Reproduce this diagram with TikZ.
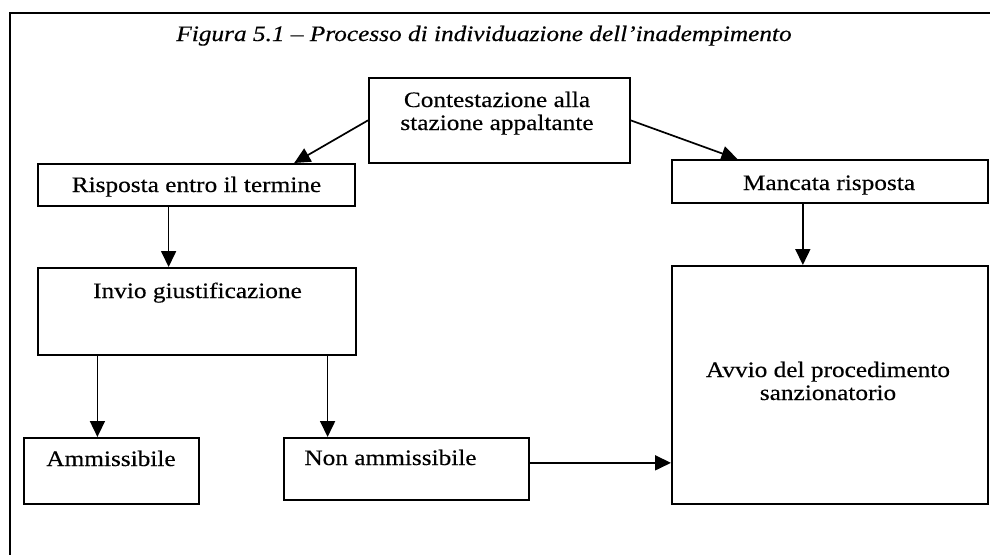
\documentclass[tikz,border=0pt]{standalone}
\usepackage{fontspec}
\setmainfont{Liberation Serif}[UprightFeatures={FakeBold=0.35},ItalicFeatures={FakeBold=0.35}]
\usepackage{graphicx}
\usetikzlibrary{arrows.meta,calc}
\newcommand{\wdstretch}[1]{\scalebox{1.15}[1]{#1}}
\begin{document}
\begin{tikzpicture}[x=1pt,y=-1pt,
  box/.style={draw, line width=1.7pt, inner sep=0pt, anchor=north west},
  txt/.style={font=\fontsize{22}{24}\selectfont, inner sep=0pt, anchor=base},
  arr/.style={line width=1.7pt, -{Triangle[length=16pt,width=15pt]}}]
\useasboundingbox (0,0) rectangle (990,555);
% outer frame (open at right and bottom, as cropped)
\coordinate (fr1) at (990,13);
\coordinate (fr2) at (10,13);
\coordinate (fr3) at (10,555);
\draw[line width=1.7pt] (fr1) -- (fr2) -- (fr3);
% title
\node[txt] (title) at (484,41) {\wdstretch{\itshape Figura 5.1 – Processo di individuazione dell’inadempimento}};
% boxes
\node[box, minimum width=261pt, minimum height=85pt] (cont) at (368,77) {};
\node[box, minimum width=317pt, minimum height=42pt] (ris) at (37,163) {};
\node[box, minimum width=316pt, minimum height=43pt] (man) at (671,159) {};
\node[box, minimum width=318pt, minimum height=87pt] (inv) at (37,267) {};
\node[box, minimum width=175pt, minimum height=66pt] (amm) at (23,437) {};
\node[box, minimum width=245pt, minimum height=62pt] (nam) at (283,437) {};
\node[box, minimum width=316pt, minimum height=238pt] (avv) at (671,265) {};
% texts
\node[txt] (contA) at (497,107) {\wdstretch{Contestazione alla}};
\node[txt] (contB) at (497,130) {\wdstretch{stazione appaltante}};
\node[txt] (risT) at (196.5,192) {\wdstretch{Risposta entro il termine}};
\node[txt] (manT) at (829,190) {\wdstretch{Mancata risposta}};
\node[txt] (invT) at (197.5,298) {\wdstretch{Invio giustificazione}};
\node[txt] (ammT) at (111,466) {\wdstretch{Ammissibile}};
\node[txt] (namT) at (390.5,465) {\wdstretch{Non ammissibile}};
\node[txt] (avvA) at (828,377) {\wdstretch{Avvio del procedimento}};
\node[txt] (avvB) at (828,400) {\wdstretch{sanzionatorio}};
% connectors
\coordinate (c1) at ($(ris.north west)!0.807!(ris.north east)$);
\coordinate (c2) at ($(man.north west)!0.209!(man.north east)$);
\coordinate (c3) at ($(ris.south west)!0.413!(ris.south east)$);
\coordinate (c4) at ($(man.south west)!0.415!(man.south east)$);
\coordinate (c5) at ($(inv.south west)!0.189!(inv.south east)$);
\coordinate (c6) at ($(inv.south west)!0.909!(inv.south east)$);
\coordinate (c7) at ([yshift=6pt]nam.east);
\draw[arr] (cont.west) -- (c1);
\draw[arr] (cont.east) -- (c2);
\draw[arr] (c3) -- (c3 |- inv.north);
\draw[arr] (c4) -- (c4 |- avv.north);
\draw[arr] (c5) -- (c5 |- amm.north);
\draw[arr] (c6) -- (c6 |- nam.north);
\draw[arr] (c7) -- (c7 -| avv.west);
\end{tikzpicture}
\end{document}
